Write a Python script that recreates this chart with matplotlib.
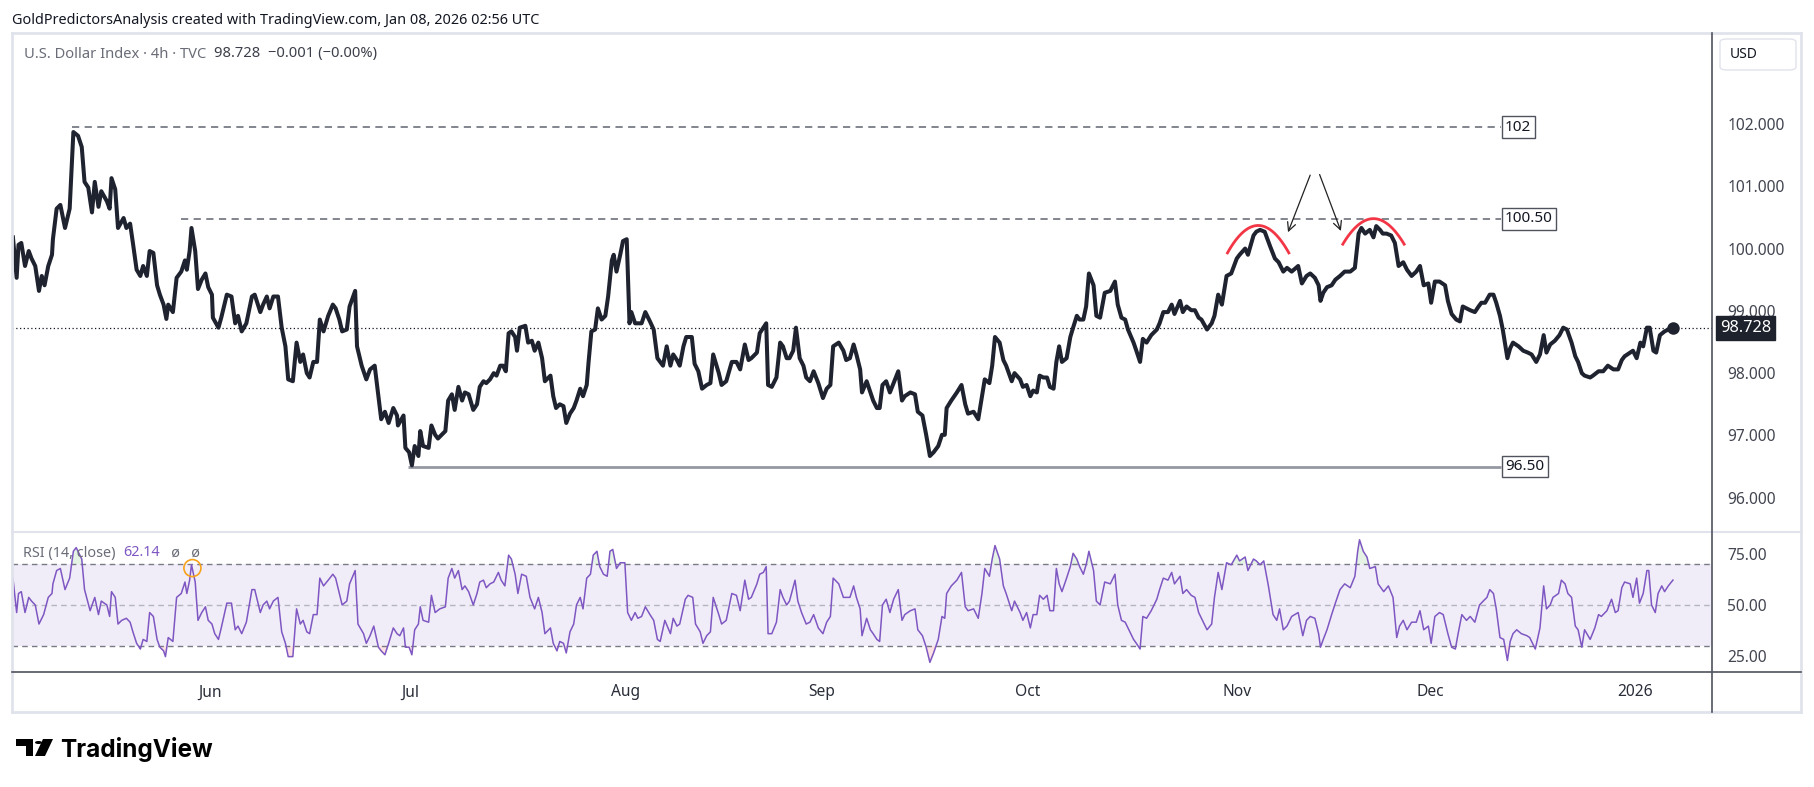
import numpy as np
import matplotlib.pyplot as plt
import matplotlib.transforms as mtransforms
from matplotlib.lines import Line2D
from matplotlib.patches import FancyBboxPatch, Polygon, Circle

plt.rcParams['font.family'] = ['Noto Sans', 'DejaVu Sans']

W, H = 1814, 787

# DXY 4h close, (trading day, price)
price_pts = [
    (0.1, 100.18), (0.5, 99.53), (0.7, 100.06), (1.0, 100.09), (1.4, 99.72), (1.8, 99.96), (2.1, 99.84),
    (2.5, 99.72), (2.9, 99.32), (3.2, 99.56), (3.5, 99.41), (3.9, 99.72), (4.3, 99.90), (4.4, 100.15),
    (4.8, 100.64), (5.2, 100.70), (5.7, 100.33), (6.2, 100.64), (6.6, 101.87), (7.1, 101.81), (7.5, 101.63),
    (7.8, 101.07), (8.2, 100.98), (8.6, 100.58), (8.9, 101.07), (9.3, 100.67), (9.6, 100.92), (10.2, 100.76),
    (10.5, 100.64), (10.7, 101.13), (11.1, 100.95), (11.4, 100.33), (12.0, 100.49), (12.3, 100.33),
    (12.7, 100.40), (13.0, 100.09), (13.4, 99.66), (13.8, 99.56), (14.1, 99.72), (14.5, 99.56), (14.8, 99.96),
    (15.2, 99.93), (15.6, 99.41), (15.9, 99.26), (16.3, 99.10), (16.6, 98.87), (16.8, 99.10), (17.3, 98.98),
    (17.7, 99.53), (18.2, 99.63), (18.6, 99.81), (18.8, 99.66), (19.1, 99.96), (19.3, 100.33), (19.7, 99.96),
    (20.0, 99.35), (20.4, 99.50), (20.8, 99.60), (21.1, 99.38), (21.5, 99.26), (21.6, 98.89), (22.2, 98.73),
    (22.5, 98.89), (23.1, 99.26), (23.6, 99.23), (24.0, 98.80), (24.3, 98.92), (24.7, 98.67), (25.2, 98.80),
    (25.8, 99.23), (26.1, 99.26), (26.7, 98.98), (27.0, 99.10), (27.4, 99.23), (27.7, 99.04), (28.1, 99.23),
    (28.6, 99.23), (29.0, 98.73), (29.4, 98.43), (29.7, 97.90), (30.2, 97.87), (30.6, 98.49), (31.0, 98.18),
    (31.3, 98.30), (31.7, 98.00), (32.0, 97.93), (32.4, 98.18), (32.8, 98.18), (33.1, 98.86), (33.5, 98.67),
    (34.0, 98.92), (34.5, 99.10), (34.8, 99.04), (35.2, 98.86), (35.5, 98.67), (36.0, 98.70), (36.3, 99.07),
    (36.9, 99.32), (37.1, 98.43), (37.6, 98.12), (38.1, 97.90), (38.5, 98.06), (39.0, 98.12), (39.4, 97.63),
    (39.7, 97.26), (40.1, 97.38), (40.5, 97.20), (41.0, 97.44), (41.4, 97.32), (41.5, 97.16), (42.1, 97.32),
    (42.3, 96.80), (42.7, 96.73), (43.0, 96.52), (43.3, 96.83), (43.7, 96.67),
    (43.9, 97.07), (44.2, 96.83), (44.8, 96.80), (45.1, 97.16), (45.5, 97.01), (45.8, 96.95), (46.2, 97.01),
    (46.6, 97.07), (46.9, 97.56), (47.3, 97.66), (47.6, 97.41), (48.0, 97.78), (48.4, 97.56), (48.7, 97.69),
    (49.1, 97.66), (49.6, 97.41), (50.0, 97.50), (50.3, 97.78), (50.7, 97.87), (51.0, 97.84), (51.4, 97.90),
    (51.8, 98.00), (52.1, 97.96), (52.5, 98.12), (52.8, 98.12), (53.1, 98.03), (53.4, 98.64), (53.7, 98.67),
    (54.1, 98.58), (54.3, 98.36), (54.6, 98.73), (55.2, 98.76), (55.5, 98.49), (55.9, 98.52), (56.2, 98.36),
    (56.6, 98.49), (57.0, 98.24), (57.3, 97.87), (57.9, 97.96), (58.2, 97.63), (58.5, 97.44), (58.9, 97.50),
    (59.3, 97.47), (59.6, 97.20), (60.0, 97.35), (60.4, 97.44), (60.7, 97.56), (61.1, 97.75), (61.4, 97.63),
    (61.8, 97.81), (62.0, 98.18), (62.3, 98.67), (62.7, 98.70), (63.0, 99.04), (63.4, 98.86), (63.8, 98.92),
    (64.1, 99.23), (64.5, 99.81), (64.7, 99.90), (65.0, 99.63), (65.4, 99.90), (65.7, 100.12), (66.1, 100.15),
    (66.4, 98.80), (66.6, 98.98), (67.0, 98.80), (67.3, 98.80), (67.7, 98.80), (68.1, 98.98), (68.6, 98.83),
    (69.0, 98.70), (69.4, 98.24), (69.7, 98.18), (70.0, 98.12), (70.4, 98.43), (70.8, 98.12), (71.1, 98.30),
    (71.5, 98.21), (71.8, 98.12), (72.2, 98.43), (72.5, 98.58), (73.1, 98.58), (73.4, 98.15), (73.8, 98.03),
    (74.2, 97.75), (74.7, 97.81), (75.1, 97.84), (75.4, 98.30), (76.0, 98.00), (76.3, 97.81), (76.8, 97.87),
    (77.4, 98.18), (77.9, 98.18), (78.3, 98.06), (78.8, 98.46), (79.2, 98.21), (79.5, 98.24), (80.1, 98.33),
    (80.4, 98.64), (80.8, 98.73), (81.1, 98.80), (81.3, 97.81), (81.7, 97.78), (82.2, 97.93), (82.6, 98.49),
    (82.9, 98.43), (83.3, 98.24), (83.6, 98.24), (84.0, 98.36), (84.3, 98.73), (84.7, 98.24), (85.1, 98.12),
    (85.4, 97.93), (85.8, 97.87), (86.2, 98.03), (86.7, 97.84), (87.2, 97.60), (87.6, 97.75), (88.0, 97.81),
    (88.3, 98.43), (88.9, 98.49), (89.4, 98.36), (89.7, 98.21), (90.1, 98.24),
    (90.5, 98.46), (90.8, 98.30), (91.2, 98.06), (91.4, 97.69), (91.9, 97.87), (92.3, 97.69), (92.6, 97.56),
    (93.0, 97.44), (93.3, 97.44), (93.6, 97.81), (94.0, 97.87), (94.4, 97.69), (94.8, 97.84), (95.3, 98.03),
    (95.7, 97.56), (96.0, 97.63), (96.6, 97.69), (97.1, 97.66), (97.4, 97.38), (97.9, 97.32), (98.3, 97.01),
    (98.7, 96.67), (99.1, 96.73), (99.6, 96.83), (100.0, 97.01), (100.3, 97.01), (100.5, 97.44), (101.0, 97.56),
    (101.6, 97.69), (102.1, 97.81), (102.5, 97.50), (102.8, 97.35), (103.4, 97.38), (103.9, 97.26),
    (104.3, 97.63), (104.6, 97.90), (105.1, 97.84), (105.4, 98.12), (105.7, 98.58), (106.2, 98.49),
    (106.6, 98.21), (106.9, 98.12), (107.5, 97.87), (107.8, 98.00), (108.4, 97.90), (108.7, 97.78),
    (109.1, 97.81), (109.5, 97.63), (109.8, 97.72), (110.2, 97.69), (110.5, 97.96), (110.9, 97.93),
    (111.3, 97.93), (111.6, 97.78), (112.0, 97.75), (112.3, 98.18), (112.6, 98.43), (112.9, 98.18),
    (113.4, 98.24), (113.8, 98.58), (114.1, 98.73), (114.5, 98.92), (114.8, 98.86), (115.2, 98.86),
    (115.5, 99.07), (115.8, 99.60), (116.3, 99.41), (116.6, 98.92), (117.0, 98.89), (117.5, 99.29),
    (118.1, 99.32), (118.6, 99.47), (118.9, 99.10), (119.3, 98.89), (119.7, 98.86), (120.0, 98.70),
    (120.6, 98.49), (120.9, 98.36), (121.3, 98.18), (121.6, 98.55), (122.0, 98.49), (122.5, 98.61),
    (123.1, 98.70), (123.4, 98.80), (123.8, 98.98), (124.3, 98.98), (124.7, 99.10), (125.0, 98.95),
    (125.6, 99.16), (125.9, 98.98), (126.3, 99.07), (126.8, 99.01), (127.2, 99.01), (127.6, 98.89),
    (127.9, 98.86), (128.5, 98.70), (129.0, 98.80), (129.3, 98.92), (129.7, 99.26), (130.1, 99.10),
    (130.6, 99.56), (131.1, 99.60), (131.7, 99.84), (132.0, 99.90), (132.6, 100.00), (132.9, 99.90),
    (133.5, 100.21), (133.8, 100.27),
    (134.2, 100.30), (134.7, 100.27), (135.3, 100.03), (135.8, 99.84), (136.2, 99.78), (136.7, 99.63),
    (137.1, 99.69), (137.6, 99.63), (138.3, 99.72), (138.7, 99.44), (139.2, 99.56), (139.6, 99.60),
    (140.1, 99.53), (140.5, 99.41), (140.7, 99.16), (141.0, 99.29), (141.4, 99.38), (141.9, 99.41),
    (142.3, 99.50), (142.8, 99.56), (143.3, 99.63), (143.9, 99.63), (144.4, 99.69), (144.8, 100.24),
    (145.1, 100.33), (145.5, 100.24), (146.0, 100.30), (146.4, 100.18), (146.7, 100.36), (147.1, 100.30),
    (147.4, 100.24), (147.8, 100.24), (148.3, 100.21), (148.7, 100.09), (149.1, 99.72), (149.6, 99.78),
    (150.0, 99.66), (150.5, 99.56), (151.0, 99.63), (151.4, 99.72), (151.8, 99.41), (152.3, 99.44),
    (152.6, 99.13), (153.0, 99.47), (153.5, 99.47), (154.1, 99.41), (154.4, 99.16), (154.8, 98.95),
    (155.3, 98.86), (155.7, 98.83), (156.0, 99.07), (156.4, 99.04), (156.8, 99.01), (157.3, 98.98),
    (157.7, 99.07), (158.0, 99.13), (158.4, 99.13), (158.9, 99.26), (159.3, 99.26), (159.6, 99.13),
    (160.0, 98.92), (160.3, 98.70), (160.5, 98.52), (160.8, 98.24), (161.1, 98.40), (161.4, 98.49),
    (162.0, 98.43), (162.5, 98.36), (163.0, 98.33), (163.4, 98.30), (163.9, 98.18), (164.3, 98.30),
    (164.7, 98.61), (165.0, 98.33), (165.4, 98.46), (165.9, 98.52), (166.4, 98.61), (166.8, 98.73),
    (167.2, 98.70), (167.7, 98.49), (168.1, 98.27), (168.4, 98.18), (168.8, 98.00), (169.1, 97.96),
    (169.7, 97.93), (170.0, 97.96), (170.6, 98.03), (171.1, 98.03), (171.6, 98.12), (172.2, 98.06),
    (172.7, 98.06), (173.1, 98.21), (173.4, 98.27), (174.0, 98.33), (174.3, 98.36), (174.7, 98.24),
    (175.1, 98.49), (175.4, 98.43), (175.8, 98.73), (176.1, 98.73), (176.5, 98.36), (176.8, 98.33),
    (177.2, 98.61), (177.7, 98.67), (178.1, 98.70), (178.6, 98.728),
]

# RSI(14) values, (trading day, rsi)
rsi_pts = [
    (0.1, 63.1), (0.5, 46.3), (0.7, 55.6), (1.0, 56.5), (1.4, 46.3), (1.8, 53.7), (2.1, 51.9), (2.5, 50.0),
    (2.9, 40.7), (3.4, 45.3), (3.9, 53.7), (4.3, 55.6), (4.4, 60.3), (4.8, 66.8), (5.2, 67.8), (5.7, 57.5),
    (6.2, 63.1), (6.6, 76.2), (6.9, 78.0), (7.5, 72.4), (7.8, 57.5), (8.4, 47.2), (8.9, 53.7), (9.3, 45.3),
    (9.6, 51.9), (10.2, 50.0), (10.5, 44.4), (10.7, 56.5), (11.1, 53.7), (11.4, 40.7), (11.8, 42.5),
    (12.3, 43.5), (12.7, 41.6), (13.0, 36.9), (13.4, 31.3), (13.8, 28.5), (14.1, 33.2), (14.5, 32.2),
    (14.8, 46.3), (15.2, 44.4), (15.6, 33.2), (15.9, 29.4), (16.3, 27.6), (16.5, 24.8), (16.8, 34.1),
    (17.3, 32.2), (17.7, 53.7), (18.2, 55.6), (18.6, 61.2), (18.8, 55.6), (19.1, 62.1), (19.3, 69.6),
    (19.7, 61.2), (20.0, 42.5), (20.4, 46.3), (20.8, 49.1), (21.1, 42.5), (21.5, 40.7), (21.8, 36.0),
    (22.2, 33.2), (22.5, 38.8), (23.1, 50.9), (23.6, 50.9), (24.0, 37.9), (24.3, 39.7), (24.7, 36.0),
    (25.2, 41.6), (25.8, 57.5), (26.1, 57.5), (26.7, 46.3), (27.0, 50.0), (27.4, 51.9), (27.7, 48.1),
    (28.1, 51.9), (28.6, 53.7), (29.0, 36.9), (29.4, 31.3), (29.7, 24.8), (30.2, 24.8), (30.6, 48.1),
    (31.0, 40.7), (31.3, 42.5), (31.7, 36.9), (32.0, 36.0), (32.4, 45.3), (32.8, 45.3), (33.1, 63.1),
    (33.5, 59.3), (34.0, 62.1), (34.5, 65.0), (34.8, 63.1), (35.2, 55.6), (35.5, 50.0), (36.0, 51.9),
    (36.3, 60.3), (36.9, 66.8), (37.2, 40.7), (37.8, 36.0), (38.1, 31.3), (38.5, 35.0), (38.9, 39.7),
    (39.4, 29.4), (39.7, 27.6), (40.1, 25.7), (40.5, 31.3), (41.0, 38.8), (41.4, 36.0), (41.7, 35.0),
    (42.1, 38.8), (42.3, 29.4), (42.7, 29.4), (43.0, 25.7), (43.3, 37.9), (43.7, 40.7),
    (43.9, 49.1), (44.2, 42.5), (44.8, 41.6), (45.1, 54.7), (45.5, 46.3), (46.0, 48.1), (46.6, 49.1),
    (46.9, 63.1), (47.3, 67.8), (47.6, 63.1), (48.0, 66.8), (48.4, 57.5), (48.7, 59.3), (49.1, 56.5),
    (49.6, 50.0), (50.0, 55.6), (50.3, 61.2), (50.7, 62.1), (51.0, 58.4), (51.4, 60.3), (51.8, 61.2),
    (52.3, 65.9), (52.6, 62.1), (53.0, 59.3), (53.4, 74.3), (53.7, 72.4), (54.1, 65.0), (54.4, 55.6),
    (54.8, 65.0), (55.3, 64.0), (55.7, 53.7), (56.2, 48.1), (56.6, 53.7), (57.0, 46.3), (57.3, 36.0),
    (57.9, 38.8), (58.2, 31.3), (58.6, 27.6), (58.9, 32.2), (59.3, 31.3), (59.6, 26.6), (60.0, 36.9),
    (60.4, 40.7), (60.7, 50.0), (61.1, 53.7), (61.4, 48.1), (61.8, 63.1), (62.2, 65.0), (62.5, 74.3),
    (62.9, 76.2), (63.2, 68.7), (63.6, 65.0), (64.0, 64.0), (64.3, 76.2), (64.6, 77.1), (65.0, 67.8),
    (65.4, 70.6), (65.9, 70.6), (66.2, 46.3), (66.6, 42.5), (67.0, 46.3), (67.3, 43.5), (67.7, 44.4),
    (68.1, 49.1), (68.6, 45.3), (69.0, 42.5), (69.4, 33.2), (69.7, 32.2), (70.2, 42.5), (70.8, 36.0),
    (71.1, 43.5), (71.5, 39.7), (71.8, 40.7), (72.4, 52.8), (72.7, 54.7), (73.2, 53.7), (73.5, 40.7),
    (74.0, 36.9), (74.3, 31.3), (74.7, 35.0), (75.1, 36.9), (75.4, 53.7), (76.0, 45.3), (76.3, 40.7),
    (76.8, 42.5), (77.4, 55.6), (77.9, 54.7), (78.3, 47.2), (78.8, 62.1), (79.2, 52.8), (79.5, 53.7),
    (80.1, 60.3), (80.4, 65.0), (80.8, 65.9), (81.1, 68.7), (81.3, 36.0), (81.7, 36.0), (82.2, 41.6),
    (82.6, 57.5), (82.9, 53.7), (83.3, 50.0), (83.6, 51.9), (84.2, 62.1), (84.5, 51.9), (84.9, 46.3),
    (85.4, 40.7), (85.8, 41.6), (86.2, 45.3), (86.7, 38.8), (87.2, 36.0), (87.6, 41.6), (88.0, 44.4),
    (88.3, 63.1), (88.9, 60.3), (89.4, 53.7), (90.1, 53.7),
    (90.5, 59.3), (90.8, 53.7), (91.2, 48.1), (91.4, 35.0), (91.9, 43.5), (92.3, 37.9), (92.6, 36.0),
    (93.0, 33.2), (93.3, 32.2), (93.6, 50.0), (94.0, 52.8), (94.4, 46.3), (94.8, 52.8), (95.3, 57.5),
    (95.7, 42.5), (96.0, 45.3), (96.6, 47.2), (97.1, 48.1), (97.4, 37.9), (97.9, 35.0), (98.3, 29.4),
    (98.7, 22.0), (99.1, 26.6), (99.6, 33.2), (100.0, 44.4), (100.3, 43.5), (100.5, 55.6), (101.0, 59.3),
    (101.6, 62.1), (102.1, 65.9), (102.5, 49.1), (102.8, 47.2), (103.4, 48.1), (103.9, 43.5), (104.3, 55.6),
    (104.6, 67.8), (105.1, 64.0), (105.4, 72.4), (105.7, 79.0), (106.2, 72.4), (106.6, 59.3), (106.9, 55.6),
    (107.5, 47.2), (107.8, 51.9), (108.4, 46.3), (108.7, 42.5), (109.1, 46.3), (109.5, 38.8), (109.8, 45.3),
    (110.2, 45.3), (110.5, 54.7), (110.9, 52.8), (111.3, 54.7), (111.6, 47.2), (112.0, 47.2), (112.3, 67.8),
    (112.6, 60.3), (112.9, 56.5), (113.4, 63.1), (113.8, 68.7), (114.1, 75.2), (114.5, 72.4), (114.8, 68.7),
    (115.2, 65.0), (115.5, 69.6), (115.8, 76.2), (116.3, 66.8), (116.6, 51.9), (117.0, 50.0), (117.5, 61.2),
    (118.1, 60.3), (118.6, 65.0), (118.9, 50.0), (119.3, 42.5), (119.7, 41.6), (120.0, 38.8), (120.6, 33.2),
    (120.9, 31.3), (121.3, 28.5), (121.6, 44.4), (122.0, 43.5), (122.5, 47.2), (123.1, 52.8), (123.4, 57.5),
    (123.8, 63.1), (124.3, 62.1), (124.7, 65.9), (125.0, 60.3), (125.6, 64.0), (125.9, 55.6), (126.3, 57.5),
    (126.8, 54.7), (127.2, 53.7), (127.6, 46.3), (127.9, 43.5), (128.5, 37.9), (129.0, 40.7), (129.3, 53.7),
    (129.7, 65.9), (130.1, 57.5), (130.6, 70.6), (131.1, 69.6), (131.7, 74.3), (132.0, 71.5), (132.6, 73.4),
    (132.9, 66.8), (133.5, 72.4), (133.8, 71.5),
    (134.2, 69.6), (134.6, 71.5), (135.1, 59.3), (135.6, 45.3), (136.0, 42.5), (136.3, 48.1), (136.7, 37.9),
    (137.1, 39.7), (137.6, 44.4), (138.3, 46.3), (138.8, 35.0), (139.2, 42.5), (139.6, 44.4), (140.1, 43.5),
    (140.5, 36.0), (140.7, 29.4), (141.0, 33.2), (141.4, 37.9), (141.9, 45.3), (142.3, 50.9), (142.8, 57.5),
    (143.3, 60.3), (143.9, 58.4), (144.4, 64.0), (144.7, 76.2), (144.9, 81.8), (145.3, 76.2), (145.7, 73.4),
    (146.0, 67.8), (146.6, 68.7), (146.9, 60.3), (147.5, 56.5), (148.0, 59.3), (148.5, 53.7), (148.9, 34.1),
    (149.2, 39.7), (149.6, 42.5), (150.0, 37.9), (150.5, 41.6), (151.0, 41.6), (151.4, 47.2), (151.8, 37.9),
    (152.3, 39.7), (152.6, 31.3), (153.0, 44.4), (153.5, 46.3), (153.9, 45.3), (154.4, 36.0), (154.8, 29.4),
    (155.2, 28.5), (155.5, 36.0), (155.9, 45.3), (156.4, 42.5), (156.8, 44.4), (157.3, 41.6), (157.8, 50.0),
    (158.2, 51.9), (158.6, 53.7), (158.9, 57.5), (159.3, 55.6), (159.6, 48.1), (160.0, 34.1), (160.4, 33.2),
    (160.8, 22.9), (161.1, 32.2), (161.4, 36.0), (161.8, 37.9), (162.3, 36.0), (162.9, 35.0), (163.2, 34.1),
    (163.8, 28.5), (164.3, 38.8), (164.7, 59.3), (165.0, 48.1), (165.4, 50.0), (165.7, 53.7), (166.3, 55.6),
    (166.6, 62.1), (167.0, 60.3), (167.3, 55.6), (167.7, 53.7), (168.1, 39.7), (168.4, 37.9), (168.8, 29.4),
    (169.1, 37.9), (169.7, 33.2), (170.2, 38.8), (170.6, 45.3), (170.9, 44.4), (171.5, 47.2), (172.0, 52.8),
    (172.4, 46.3), (172.7, 47.2), (173.1, 58.4), (173.4, 61.2), (174.0, 60.3), (174.3, 53.7), (174.7, 63.1),
    (175.0, 50.9), (175.4, 55.6), (175.8, 66.8), (176.0, 66.8), (176.3, 50.0), (176.7, 46.3), (177.0, 55.6),
    (177.4, 59.3), (177.7, 56.5), (178.1, 59.3), (178.6, 62.14),
]

last_price = 98.728
last_rsi = 62.14

month_pos = [21.3, 42.8, 66.0, 87.1, 109.2, 131.7, 152.5, 174.5]
month_labels = ['Jun', 'Jul', 'Aug', 'Sep', 'Oct', 'Nov', 'Dec', '2026']
price_ticks = [96, 97, 98, 99, 100, 101, 102]
rsi_ticks = [25, 50, 75]

# hand drawn levels
level_y = [101.95, 100.48, 96.50]
level_text = ['102', '100.50', '96.50']
level_from = [6.5, 18.2, 42.6]
level_to = 160.1

# double top arcs: start, end, edge price, top price
arc_x0 = [130.7, 143.1]
arc_x1 = [137.3, 149.7]
arc_edge = [99.93, 100.07]
arc_top = [100.37, 100.48]

# arrows: (from, to)
arrows = [((139.7, 101.22), (137.1, 100.22)), ((140.5, 101.23), (143.0, 100.24))]
rsi_mark = (19.4, 68.0)

pt, pv = np.array(price_pts).T
rt, rv = np.array(rsi_pts).T


def fx(x):
    return x / W


def fy(y):
    return 1 - y / H


fig = plt.figure(figsize=(W / 100, H / 100), dpi=100)
fig.patch.set_facecolor('white')

ax = fig.add_axes([fx(12), fy(532), fx(1712) - fx(12), fy(33) - fy(532)])
axr = fig.add_axes([fx(12), fy(672), fx(1712) - fx(12), fy(532) - fy(672)], sharex=ax)

for a in (ax, axr):
    for s in a.spines.values():
        s.set_visible(False)
    a.set_facecolor('white')

# price pane
ax.plot(pt, pv, color='#1f2330', lw=2.9, solid_joinstyle='round', zorder=5)
ax.plot(pt[-1], pv[-1], 'o', color='#1f2330', ms=8, zorder=6)
ax.axhline(last_price, color='#131722', lw=0.9, ls=(0, (1, 2)), zorder=1)

for y, txt, x0, i in zip(level_y, level_text, level_from, range(3)):
    if i < 2:
        ax.hlines(y, x0, level_to, color='#787b86', lw=1.3, ls=(0, (4, 3)))
    else:
        ax.hlines(y, x0, level_to, color='#9598a1', lw=2)
    ax.text(level_to + 0.45, y, txt, ha='left', va='center', fontsize=11, weight='bold', color='#131722',
            bbox=dict(boxstyle='square,pad=0.22', fc='white', ec='#50535e', lw=1), zorder=7)

for x0, x1, e, top in zip(arc_x0, arc_x1, arc_edge, arc_top):
    xs = np.linspace(x0, x1, 60)
    m = (x0 + x1) / 2
    ys = top - (top - e) * ((xs - m) / (x1 - m)) ** 2
    ax.plot(xs, ys, color='#f23645', lw=2, zorder=6)

for (a0, a1) in arrows:
    ax.annotate('', xy=a1, xytext=a0,
                arrowprops=dict(arrowstyle='->,head_length=0.6,head_width=0.3', color='#222', lw=0.9))

ax.set_xlim(0, 182.8)
ax.set_ylim(95.45, 103.46)
ax.yaxis.tick_right()
ax.set_yticks(price_ticks, [f'{v:.3f}' for v in price_ticks])
ax.tick_params(axis='y', length=0, pad=11, labelsize=11.2, labelcolor='#434651')
ax.tick_params(axis='x', bottom=False, labelbottom=False)

trans = mtransforms.blended_transform_factory(ax.transAxes, ax.transData)
ax.text(1.0045, last_price, f'{last_price:.3f}', transform=trans, ha='left', va='center',
        fontsize=11.8, weight='bold', color='white', clip_on=False, zorder=10,
        bbox=dict(boxstyle='square,pad=0.25', fc='#1e222d', ec='#1e222d'))

# rsi pane
axr.axhspan(30, 70, color='#7e57c2', alpha=0.1, lw=0)
axr.axhline(70, color='#787b86', lw=1, ls=(0, (4, 3)))
axr.axhline(30, color='#787b86', lw=1, ls=(0, (4, 3)))
axr.axhline(50, color='#b2b5be', lw=1, ls=(0, (4, 3)))
axr.fill_between(rt, rv, 70, where=rv > 70, interpolate=True, color='#4caf50', alpha=0.15, lw=0)
axr.fill_between(rt, rv, 30, where=rv < 30, interpolate=True, color='#f23645', alpha=0.15, lw=0)
axr.plot(rt, rv, color='#7e57c2', lw=1.1, zorder=5)
axr.scatter([rsi_mark[0]], [rsi_mark[1]], s=150, facecolors='none', edgecolors='#f7a21b', lw=1.2, zorder=6)
axr.set_ylim(17.3, 85.6)
axr.yaxis.tick_right()
axr.set_yticks(rsi_ticks, [f'{v:.2f}' for v in rsi_ticks])
axr.tick_params(axis='y', length=0, pad=11, labelsize=11.2, labelcolor='#434651')
axr.set_xticks(month_pos, month_labels)
axr.tick_params(axis='x', length=0, pad=9, labelsize=11.2, labelcolor='#2a2e39')
axr.get_xticklabels()[-1].set_fontweight('bold')


# frame lines
def fline(x0, y0, x1, y1, c, lw):
    fig.add_artist(Line2D([fx(x0), fx(x1)], [fy(y0), fy(y1)], color=c, lw=lw, transform=fig.transFigure))


fline(12, 33, 1801, 33, '#e0e3eb', 2)
fline(12, 712, 1801, 712, '#e0e3eb', 2)
fline(12, 33, 12, 712, '#e0e3eb', 2)
fline(1801, 33, 1801, 712, '#e0e3eb', 2)
fline(12, 532, 1801, 532, '#e0e3eb', 1.5)
fline(12, 672, 1801, 672, '#50535e', 1.2)
fline(1712, 33, 1712, 712, '#50535e', 1.2)

fig.add_artist(FancyBboxPatch((fx(1720), fy(70)), fx(1796) - fx(1720), fy(39) - fy(70),
                              boxstyle='round,pad=0,rounding_size=0.004', fc='white', ec='#e0e3eb', lw=1,
                              transform=fig.transFigure))
fig.text(fx(1730), fy(55), 'USD', fontsize=10, color='#131722', va='center')

renderer = fig.canvas.get_renderer()


def put(x, y, parts, size):
    for s, c in parts:
        t = fig.text(x, y, s, color=c, fontsize=size, va='center')
        bb = fig.transFigure.inverted().transform_bbox(t.get_window_extent(renderer))
        x = bb.x1


fig.text(fx(12), fy(21), 'GoldPredictorsAnalysis created with TradingView.com, Jan 08, 2026 02:56 UTC',
         fontsize=10.4, color='#131722', va='center')
put(fx(24), fy(54), [('U.S. Dollar Index · 4h · TVC  ', '#6a6d78'),
                     ('98.728  −0.001 (−0.00%)', '#3d404a')], 10.6)
put(fx(23), fy(553), [('RSI (14, close)  ', '#6a6d78'), ('62.14', '#7e57c2'),
                      ('   ø   ø', '#6a6d78')], 10.4)

# TradingView logo
fig.add_artist(Polygon([(fx(16), fy(739)), (fx(33), fy(739)), (fx(33), fy(756)), (fx(26), fy(756)),
                        (fx(26), fy(746)), (fx(16), fy(746))], closed=True, fc='black', ec='none',
                       transform=fig.transFigure))
fig.add_artist(Circle((fx(38.5), fy(742.5)), 3.5 / W, fc='black', ec='none', transform=fig.transFigure))
fig.add_artist(Polygon([(fx(43), fy(739)), (fx(53), fy(739)), (fx(45), fy(756)), (fx(35), fy(756))],
                       closed=True, fc='black', ec='none', transform=fig.transFigure))
fig.text(fx(60), fy(749), 'TradingView', fontsize=17.5, weight='bold', color='black', va='center',
         family=['Inter', 'DejaVu Sans'])

fig.savefig('out.png', dpi=100, facecolor='white')
